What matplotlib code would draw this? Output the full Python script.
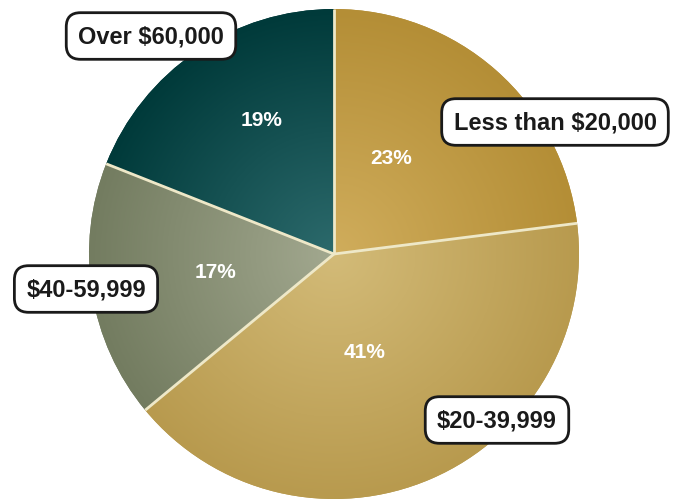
import numpy as np
import matplotlib
matplotlib.use("Agg")
import matplotlib.pyplot as plt
from matplotlib.colors import LinearSegmentedColormap

# data (clockwise from 12 o'clock)
categories = ["Less than $20,000", "$20-39,999", "$40-59,999", "Over $60,000"]
shares = [23, 41, 17, 19]
inner_colors = ["#d0ad5c", "#d3bb78", "#a2a88f", "#2c6a6c"]
outer_colors = ["#b48e36", "#b89a4e", "#737c60", "#003a3a"]

# label placement (pixels, top-left origin)
box_pos = [(555, 123), (497, 421), (86, 290), (151, 37)]
pct_pos = [(391, 158), (365, 352), (215, 272), (262, 121)]

W, H = 682, 502
cx, cy, R = 334, 502 - 255, 245

fig = plt.figure(figsize=(W / 100, H / 100), dpi=100)
ax = fig.add_axes([0, 0, 1, 1])
ax.set_xlim(0, W)
ax.set_ylim(0, H)
ax.set_aspect("equal")
ax.axis("off")

wedges, _ = ax.pie(shares, startangle=90, counterclock=False, center=(cx, cy),
                   radius=R, colors=outer_colors, wedgeprops=dict(linewidth=0))

# radial shading inside each slice
yy, xx = np.mgrid[cy - R:cy + R:400j, cx - R:cx + R:400j]
dist = np.hypot(xx - cx, yy - cy) / R
for w, c_in, c_out in zip(wedges, inner_colors, outer_colors):
    cmap = LinearSegmentedColormap.from_list("g", [c_in, c_out])
    im = ax.imshow(dist, cmap=cmap, vmin=0, vmax=1, origin="lower",
                   extent=(cx - R, cx + R, cy - R, cy + R), zorder=1.5,
                   interpolation="bilinear")
    im.set_clip_path(w)

# thin light separators between slices (no outline round the pie)
for w in wedges:
    a = np.deg2rad(w.theta1)
    ax.plot([cx, cx + R * np.cos(a)], [cy, cy + R * np.sin(a)],
            color="#eee8c8", lw=2, zorder=3, solid_capstyle="butt")

ax.set_xlim(0, W)
ax.set_ylim(0, H)

for name, (x, y) in zip(categories, box_pos):
    ax.text(x, H - y, name, ha="center", va="center", fontsize=17,
            fontweight="bold", family="Liberation Sans", color="#1a1a1a", zorder=5,
            bbox=dict(boxstyle="round,pad=0.5,rounding_size=0.6", fc="white",
                      ec="#1a1a1a", lw=2))

for s, (x, y) in zip(shares, pct_pos):
    ax.text(x, H - y, f"{s}%", ha="center", va="center", fontsize=15,
            fontweight="bold", family="Liberation Sans", color="white", zorder=5)

fig.savefig("out.png", dpi=100)
